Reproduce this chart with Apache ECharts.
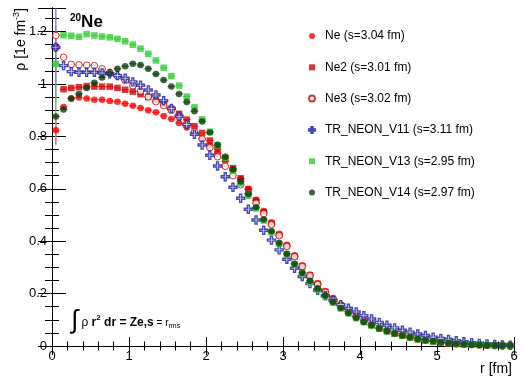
<!DOCTYPE html>
<html>
<head>
<meta charset="utf-8">
<script src="https://cdn.jsdelivr.net/npm/echarts@6/dist/echarts.min.js"></script>
<style>
  html, body { margin: 0; padding: 0; background: #fff; }
  #chart { width: 523px; height: 377px; }
</style>
</head>
<body>
<div id="chart"></div>
<script>
// bin centres in fm
const rBins = [0.05, 0.15, 0.25, 0.35, 0.45, 0.55, 0.65, 0.75, 0.85, 0.95,
  1.05, 1.15, 1.25, 1.35, 1.45, 1.55, 1.65, 1.75, 1.85, 1.95,
  2.05, 2.15, 2.25, 2.35, 2.45, 2.55, 2.65, 2.75, 2.85, 2.95,
  3.05, 3.15, 3.25, 3.35, 3.45, 3.55, 3.65, 3.75, 3.85, 3.95,
  4.05, 4.15, 4.25, 4.35, 4.45, 4.55, 4.65, 4.75, 4.85, 4.95,
  5.05, 5.15, 5.25, 5.35, 5.45, 5.55, 5.65, 5.75, 5.85, 5.95];
const binHalf = 0.05;

const rhoNe = [0.823, 0.912, 0.945, 0.948, 0.945, 0.940, 0.940, 0.935, 0.932, 0.925,
  0.917, 0.908, 0.900, 0.892, 0.878, 0.866, 0.851, 0.834, 0.814, 0.791,
  0.765, 0.735, 0.705, 0.672, 0.637, 0.600, 0.558, 0.515, 0.472, 0.428,
  0.386, 0.346, 0.308, 0.273, 0.240, 0.210, 0.183, 0.158, 0.135, 0.116,
  0.099, 0.084, 0.071, 0.060, 0.050, 0.042, 0.035, 0.029, 0.024, 0.019,
  0.015, 0.012, 0.010, 0.008, 0.006, 0.005, 0.004, 0.003, 0.002, 0.002];

const rhoNe2 = [1.140, 0.980, 0.985, 0.988, 0.992, 0.990, 0.990, 0.990, 0.985, 0.978,
  0.971, 0.961, 0.950, 0.938, 0.924, 0.906, 0.886, 0.864, 0.839, 0.813,
  0.784, 0.751, 0.716, 0.679, 0.640, 0.598, 0.555, 0.511, 0.467, 0.424,
  0.382, 0.342, 0.304, 0.269, 0.236, 0.206, 0.179, 0.154, 0.132, 0.113,
  0.096, 0.081, 0.068, 0.057, 0.047, 0.039, 0.032, 0.026, 0.021, 0.017,
  0.013, 0.010, 0.008, 0.006, 0.005, 0.004, 0.003, 0.002, 0.002, 0.001];

const rhoNe3 = [1.185, 1.102, 1.075, 1.073, 1.072, 1.070, 1.058, 1.045, 1.030, 1.013,
  0.993, 0.973, 0.951, 0.932, 0.917, 0.899, 0.874, 0.846, 0.818, 0.790,
  0.757, 0.722, 0.686, 0.650, 0.615, 0.582, 0.545, 0.505, 0.463, 0.421,
  0.380, 0.341, 0.303, 0.268, 0.235, 0.205, 0.178, 0.154, 0.132, 0.113,
  0.096, 0.081, 0.068, 0.057, 0.048, 0.040, 0.033, 0.027, 0.022, 0.017,
  0.014, 0.011, 0.008, 0.006, 0.005, 0.004, 0.003, 0.002, 0.002, 0.001];

const rhoV11 = [1.140, 1.070, 1.047, 1.045, 1.045, 1.045, 1.042, 1.039, 1.032, 1.022,
  1.008, 0.995, 0.977, 0.958, 0.936, 0.907, 0.877, 0.845, 0.808, 0.767,
  0.728, 0.687, 0.646, 0.606, 0.564, 0.522, 0.481, 0.442, 0.404, 0.367,
  0.331, 0.297, 0.265, 0.238, 0.213, 0.192, 0.174, 0.158, 0.144, 0.130,
  0.116, 0.103, 0.090, 0.079, 0.069, 0.060, 0.053, 0.046, 0.040, 0.034,
  0.029, 0.025, 0.020, 0.016, 0.013, 0.010, 0.008, 0.006, 0.004, 0.003];

const rhoV13 = [1.077, 1.186, 1.184, 1.180, 1.190, 1.185, 1.181, 1.178, 1.172, 1.163,
  1.150, 1.135, 1.115, 1.090, 1.062, 1.030, 0.994, 0.952, 0.911, 0.865,
  0.818, 0.766, 0.718, 0.668, 0.620, 0.573, 0.525, 0.479, 0.434, 0.390,
  0.350, 0.312, 0.277, 0.245, 0.215, 0.189, 0.165, 0.143, 0.124, 0.106,
  0.091, 0.077, 0.066, 0.056, 0.047, 0.039, 0.032, 0.026, 0.021, 0.017,
  0.013, 0.011, 0.008, 0.006, 0.005, 0.004, 0.003, 0.002, 0.002, 0.001];

const rhoV14 = [0.876, 0.903, 0.945, 0.962, 0.985, 1.005, 1.025, 1.040, 1.058, 1.068,
  1.077, 1.072, 1.058, 1.038, 1.015, 0.990, 0.962, 0.931, 0.896, 0.857,
  0.815, 0.768, 0.722, 0.675, 0.628, 0.580, 0.530, 0.483, 0.438, 0.393,
  0.352, 0.314, 0.280, 0.249, 0.219, 0.193, 0.168, 0.145, 0.126, 0.108,
  0.092, 0.079, 0.067, 0.057, 0.048, 0.040, 0.033, 0.027, 0.022, 0.018,
  0.014, 0.011, 0.009, 0.007, 0.005, 0.004, 0.003, 0.003, 0.002, 0.002];

// big error bars of the first bin [low, high]
const errNe = [0.766, 0.880];
const errV11 = [0.983, 1.297];
const errV13 = [0.930, 1.224];
const errV14 = [0.770, 0.985];

const names = ['Ne (s=3.04 fm)', 'Ne2 (s=3.01 fm)', 'Ne3 (s=3.02 fm)',
  'TR_NEON_V11 (s=3.11 fm)', 'TR_NEON_V13 (s=2.95 fm)', 'TR_NEON_V14 (s=2.97 fm)'];

const FONT = '"Liberation Sans", Arial, Helvetica, sans-serif';
const crossPath = 'path://M3,0H5V3H8V5H5V8H3V5H0V3H3Z';

function pts(vals) {
  return rBins.map((r, i) => [r, vals[i]]);
}

const chart = echarts.init(document.getElementById('chart'));

const sets = [
  { name: names[0], vals: rhoNe, symbol: 'circle', size: 6.5, color: '#ff0000',
    style: { color: '#ff0000' } },
  { name: names[1], vals: rhoNe2, symbol: 'rect', size: 6.5, color: '#d40000',
    style: { color: '#d40000' } },
  { name: names[2], vals: rhoNe3, symbol: 'circle', size: 6.5, color: '#b01010',
    style: { color: '#ffffff', borderColor: '#b01010', borderWidth: 1 } },
  { name: names[3], vals: rhoV11, symbol: crossPath, size: 8, color: '#1a1aa0',
    style: { color: '#ffffff', borderColor: '#1a1aa0', borderWidth: 1.4 } },
  { name: names[4], vals: rhoV13, symbol: 'rect', size: 6.5, color: '#33cc33',
    style: { color: '#33cc33' } },
  { name: names[5], vals: rhoV14, symbol: 'circle', size: 6.5, color: '#0a3d0a',
    style: { color: '#0a3d0a' } }
];

const series = [];

// first-bin vertical error bars
const errColors = ['#ff7070', '#6a6ad8', '#88dd88', '#6f8f6f'];
series.push({
  type: 'custom', silent: true, clip: true, z: 2,
  encode: { x: 0, y: [1, 2] },
  data: [
    [rBins[0], errV13[0], errV13[1], 2],
    [rBins[0], errV14[0], errV14[1], 3],
    [rBins[0], errNe[0], errNe[1], 0],
    [rBins[0], errV11[0], errV11[1], 1]
  ],
  renderItem(params, api) {
    const p1 = api.coord([api.value(0), api.value(1)]);
    const p2 = api.coord([api.value(0), api.value(2)]);
    return {
      type: 'line',
      shape: { x1: p1[0], y1: p1[1], x2: p2[0], y2: p2[1] },
      style: { stroke: errColors[api.value(3)], lineWidth: 1.2 }
    };
  }
});

sets.forEach((s, k) => {
  // horizontal (bin width) error bars
  series.push({
    type: 'custom', silent: true, clip: true, z: 2 + k * 0.1,
    encode: { x: 0, y: 1 },
    data: pts(s.vals),
    renderItem(params, api) {
      const a = api.coord([api.value(0) - binHalf, api.value(1)]);
      const b = api.coord([api.value(0) + binHalf, api.value(1)]);
      return {
        type: 'line',
        shape: { x1: a[0], y1: a[1], x2: b[0], y2: b[1] },
        style: { stroke: s.color, lineWidth: 1, opacity: 0.8 }
      };
    }
  });
  series.push({
    type: 'scatter', name: s.name, data: pts(s.vals), symbol: s.symbol,
    symbolSize: s.size, itemStyle: s.style, z: 3 + k * 0.1,
    emphasis: { disabled: true }
  });
});

const black = { color: '#000', width: 1 };

const option = {
  animation: false,
  backgroundColor: '#fff',
  textStyle: { fontFamily: FONT },
  grid: { left: 52, right: 9, top: 8, bottom: 31, outerBoundsMode: 'none' },
  xAxis: [
    { type: 'value', min: 0, max: 6, interval: 1, position: 'bottom',
      axisLine: { show: true, lineStyle: black },
      axisTick: { show: true, inside: true, length: 9, lineStyle: black },
      minorTick: { show: true, splitNumber: 5, length: 4.5, lineStyle: black },
      axisLabel: { color: '#000', fontSize: 13, margin: 4, fontFamily: FONT },
      splitLine: { show: false } },
    { type: 'value', min: 0, max: 6, interval: 1, position: 'top',
      axisLine: { show: true, lineStyle: black },
      axisTick: { show: true, inside: true, length: 9, lineStyle: black },
      minorTick: { show: true, splitNumber: 5, length: 4.5, lineStyle: black },
      axisLabel: { show: false },
      splitLine: { show: false } }
  ],
  yAxis: [
    { type: 'value', min: 0, max: 1.29, interval: 0.2, position: 'left',
      axisLine: { show: true, lineStyle: black },
      axisTick: { show: true, inside: true, length: 14, lineStyle: black },
      minorTick: { show: true, splitNumber: 4, length: 7, lineStyle: black },
      axisLabel: { color: '#000', fontSize: 13, margin: 5, showMaxLabel: false, fontFamily: FONT },
      splitLine: { show: false } },
    { type: 'value', min: 0, max: 1.29, interval: 0.2, position: 'right',
      axisLine: { show: true, lineStyle: black },
      axisTick: { show: true, inside: true, length: 14, lineStyle: black },
      minorTick: { show: true, splitNumber: 4, length: 7, lineStyle: black },
      axisLabel: { show: false },
      splitLine: { show: false } }
  ],
  legend: {
    orient: 'vertical',
    left: 303,
    top: 24,
    itemWidth: 6,
    itemHeight: 6,
    itemGap: 17.3,
    selectedMode: false,
    textStyle: { fontSize: 12, fontFamily: FONT, color: '#000', padding: [0, 0, 0, 5], lineHeight: 14 },
    data: names
  },
  graphic: [
    { type: 'text', left: 70, top: 13,
      style: {
        text: '{s|20}{n|Ne}',
        rich: {
          s: { fontSize: 10, fontWeight: 'bold', fontFamily: FONT, fill: '#000', padding: [0, 0, 9, 0] },
          n: { fontSize: 17, fontWeight: 'bold', fontFamily: FONT, fill: '#000' }
        }
      } },
    { type: 'text', x: 21, y: 8, rotation: Math.PI / 2,
      style: {
        text: '{a|ρ [1e fm}{s|-3}{a|]}',
        align: 'right', verticalAlign: 'middle',
        rich: {
          a: { fontSize: 14, fontFamily: FONT, fill: '#000' },
          s: { fontSize: 9, fontFamily: FONT, fill: '#000', padding: [0, 0, 9, 0] }
        }
      } },
    { type: 'text', x: 512, y: 369,
      style: { text: 'r [fm]', align: 'right', verticalAlign: 'middle',
        fontSize: 14, fontFamily: FONT, fill: '#000' } },
    { type: 'text', x: 71, y: 321,
      style: {
        text: '{i|∫}{n| ρ }{b|r}{p|2}{b| dr = Ze,s}{m| = r}{q|rms}',
        verticalAlign: 'middle',
        rich: {
          i: { fontSize: 26, fontFamily: FONT, fill: '#000' },
          n: { fontSize: 12, fontFamily: FONT, fill: '#000', padding: [4, 0, 0, 0] },
          b: { fontSize: 12, fontWeight: 'bold', fontFamily: FONT, fill: '#000', padding: [4, 0, 0, 0] },
          p: { fontSize: 8, fontWeight: 'bold', fontFamily: FONT, fill: '#000', padding: [0, 0, 6, 0] },
          m: { fontSize: 10, fontFamily: FONT, fill: '#000', padding: [4, 0, 0, 0] },
          q: { fontSize: 7, fontFamily: FONT, fill: '#000', padding: [10, 0, 0, 0] }
        }
      } }
  ],
  series: series
};

chart.setOption(option);
</script>
</body>
</html>
